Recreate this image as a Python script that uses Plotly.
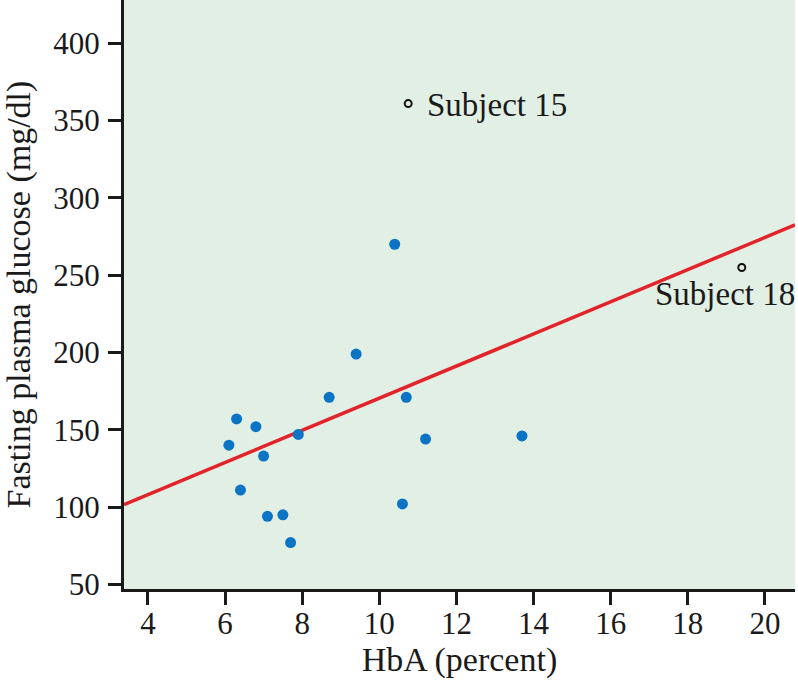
import numpy as np
import plotly.graph_objects as go

# Filled points (HbA %, fasting plasma glucose mg/dl)
hba = [6.1, 6.3, 6.4, 6.8, 7.0, 7.1, 7.5, 7.7, 7.9, 8.7, 9.4, 10.4, 10.6, 10.7, 11.2, 13.7]
glucose = [140, 157, 111, 152, 133, 94, 95, 77, 147, 171, 199, 270, 102, 171, 144, 146]

# Outlying subjects (open circles)
outlier_names = ["Subject 15", "Subject 18"]
outlier_hba = [10.75, 19.4]
outlier_glucose = [361, 255]

# Regression line
intercept = 66.4
slope = 10.4
x_range = [3.38, 20.78]
y_range = [47, 428]

x_ticks = [4, 6, 8, 10, 12, 14, 16, 18, 20]
y_ticks = [50, 100, 150, 200, 250, 300, 350, 400]

FONT = "Liberation Serif"

line_x = np.array(x_range)
line_y = intercept + slope * line_x

fig = go.Figure()
fig.add_trace(go.Scatter(x=line_x, y=line_y, mode="lines",
                         line=dict(color="#e3232a", width=3.5), hoverinfo="skip"))
fig.add_trace(go.Scatter(x=hba, y=glucose, mode="markers",
                         marker=dict(color="#0b74c4", size=11)))
fig.add_trace(go.Scatter(x=outlier_hba, y=outlier_glucose, mode="markers",
                         marker=dict(color="rgba(0,0,0,0)", size=7,
                                     line=dict(color="#111111", width=2))))

# labels for outliers
fig.add_annotation(x=outlier_hba[0], y=outlier_glucose[0], text=outlier_names[0],
                   showarrow=False, xanchor="left", yanchor="middle", xshift=17, yshift=-1,
                   font=dict(family=FONT, size=33, color="#1a1a1a"))
fig.add_annotation(x=outlier_hba[1], y=outlier_glucose[1], text=outlier_names[1],
                   showarrow=False, xanchor="center", yanchor="top", xshift=-17, yshift=-7,
                   font=dict(family=FONT, size=33, color="#1a1a1a"))

axis_common = dict(showgrid=False, zeroline=False, showline=True, linecolor="#1a1a1a",
                   linewidth=3, ticks="outside", ticklen=13, tickwidth=3, tickcolor="#1a1a1a",
                   tickfont=dict(family=FONT, size=31, color="#1a1a1a"), mirror=False)

fig.update_xaxes(range=x_range, tickvals=x_ticks, ticklabelstandoff=-8,
                 title=dict(text="HbA (percent)",
                            font=dict(family=FONT, size=34, color="#1a1a1a"), standoff=6),
                 **axis_common)
fig.update_yaxes(range=y_range, tickvals=y_ticks, ticklabelstandoff=2,
                 title=dict(text="Fasting plasma glucose (mg/dl)",
                            font=dict(family=FONT, size=34, color="#1a1a1a"), standoff=16),
                 **axis_common)

fig.update_layout(width=798, height=683, showlegend=False,
                  plot_bgcolor="#e1efe5", paper_bgcolor="white",
                  margin=dict(l=124, r=3, t=0, b=94, autoexpand=False))

fig.write_html("out.html", config={"displayModeBar": False},
               post_script="document.body.style.margin='0';document.body.style.overflow='hidden';")
